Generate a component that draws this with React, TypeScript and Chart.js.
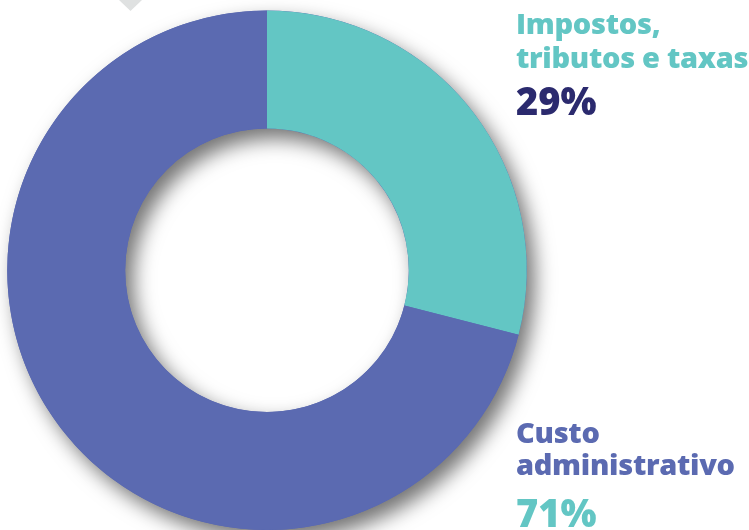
import React, { useEffect, useRef } from "react";
import { Chart, registerables } from "chart.js";

Chart.register(...registerables);

const categories = ["Impostos, tributos e taxas", "Custo administrativo"];
const categoryLines = [["Impostos,", "tributos e taxas"], ["Custo", "administrativo"]];
const values = [29, 71];
const valueLabels = ["29%", "71%"];
const colors = ["#63c6c4", "#5b6ab1"];
const labelColors = ["#63c6c4", "#5b6ab1"];
const valueColors = ["#2b2a6e", "#63c6c4"];

const shadowPlugin = {
  id: "ringShadow",
  beforeDraw(chart: any) {
    const ctx = chart.ctx;
    ctx.save();
    ctx.fillStyle = "#dfe1e1";
    ctx.beginPath();
    ctx.moveTo(119, 0);
    ctx.lineTo(142, 0);
    ctx.lineTo(130.5, 11);
    ctx.closePath();
    ctx.fill();
    ctx.restore();
  },
  beforeDatasetsDraw(chart: any) {
    const meta = chart.getDatasetMeta(0);
    if (!meta.data.length) return;
    const arc: any = meta.data[0];
    const { x, y, innerRadius, outerRadius } = arc.getProps(["x", "y", "innerRadius", "outerRadius"], true);
    const ctx = chart.ctx;
    ctx.save();
    ctx.shadowColor = "rgba(0,0,0,0.55)";
    ctx.shadowBlur = 20;
    ctx.shadowOffsetX = 8;
    ctx.shadowOffsetY = 10;
    ctx.beginPath();
    ctx.arc(x, y, outerRadius, 0, Math.PI * 2);
    ctx.arc(x, y, innerRadius, 0, Math.PI * 2, true);
    ctx.closePath();
    ctx.fillStyle = colors[1];
    ctx.fill("evenodd");
    ctx.restore();
  },
};

const font = "'Open Sans', 'Noto Sans', sans-serif";

export default function App() {
  const ref = useRef<HTMLCanvasElement | null>(null);
  useEffect(() => {
    document.body.style.margin = "0";
    if (!ref.current) return;
    const chart = new Chart(ref.current, {
      type: "doughnut",
      data: {
        labels: categories,
        datasets: [
          {
            data: values,
            backgroundColor: colors,
            borderWidth: 0,
          },
        ],
      },
      options: {
        responsive: false,
        animation: false,
        cutout: "54.6%",
        layout: { padding: { left: 7, top: 10.5, right: 222, bottom: 0 } },
        plugins: { legend: { display: false }, tooltip: { enabled: false } },
      },
      plugins: [shadowPlugin],
    });
    return () => chart.destroy();
  }, []);

  const lineStyle = (top: number, size: number, color: string, spacing = 0): React.CSSProperties => ({
    position: "absolute",
    left: 516,
    top,
    fontSize: size,
    lineHeight: `${size}px`,
    fontWeight: 800,
    fontFamily: font,
    color,
    letterSpacing: spacing,
    whiteSpace: "nowrap",
  });

  return (
    <div style={{ position: "relative", width: 749, height: 530, overflow: "hidden", background: "#fff" }}>
      <canvas ref={ref} width={749} height={530} style={{ position: "absolute", left: 0, top: 0 }} />
      <div style={lineStyle(8, 29, labelColors[0], -0.3)}>{categoryLines[0][0]}</div>
      <div style={lineStyle(42, 29, labelColors[0], -0.3)}>{categoryLines[0][1]}</div>
      <div style={lineStyle(81, 38, valueColors[0])}>{valueLabels[0]}</div>
      <div style={lineStyle(417, 29, labelColors[1], -0.3)}>{categoryLines[1][0]}</div>
      <div style={lineStyle(449, 29, labelColors[1], -0.3)}>{categoryLines[1][1]}</div>
      <div style={lineStyle(493, 38, valueColors[1])}>{valueLabels[1]}</div>
    </div>
  );
}
